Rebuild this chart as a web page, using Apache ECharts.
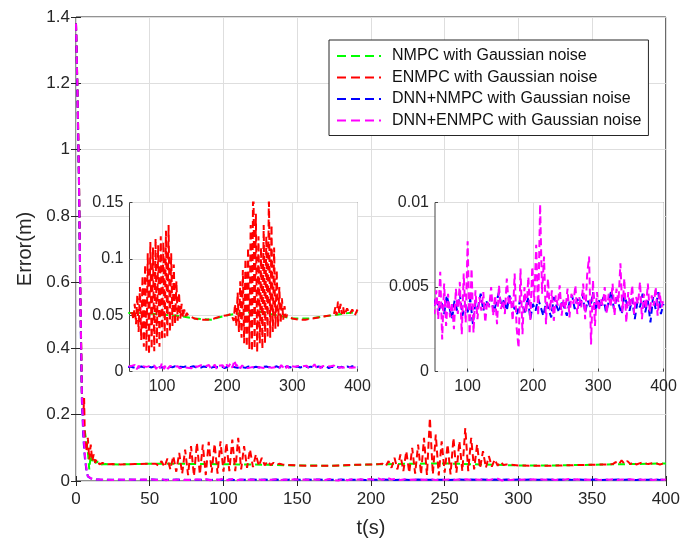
<!DOCTYPE html>
<html>
<head>
<meta charset="utf-8">
<script src="https://cdn.jsdelivr.net/npm/echarts@6/dist/echarts.min.js"></script>
<style>
html,body{margin:0;padding:0;background:#fff;}
#chart{width:683px;height:543px;}
</style>
</head>
<body>
<div id="chart"></div>
<script>
// ---------------- data ----------------
const seriesNames = ['NMPC with Gaussian noise','ENMPC with Gaussian noise','DNN+NMPC with Gaussian noise','DNN+ENMPC with Gaussian noise'];
const mainXTicks = [0,50,100,150,200,250,300,350,400];
const insetXTicks = [100,200,300,400];

// NMPC (green)
const greenT = [0,1,2,3,4,5,6,7,8,9,10,11,12,13,15,17,20,30,50,70,90,110,130,150,175,200,225,250,275,300,325,350,375,400];
const greenV = [1.38,1.18,0.92,0.55,0.27,0.17,0.15,0.145,0.09,0.035,0.08,0.06,0.07,0.055,0.058,0.05,0.051,0.05,0.052,0.052,0.051,0.05,0.049,0.047,0.046,0.05,0.052,0.053,0.05,0.047,0.047,0.049,0.051,0.053];

// ENMPC (red) in segments
const redHeadT = [0,1,2,3,4,5,5.5,6,7,8,9,10,11,12,13,14,16,18,20,25,30,40,50];
const redHeadV = [1.38,1.18,0.92,0.55,0.27,0.2,0.25,0.13,0.09,0.13,0.065,0.11,0.06,0.08,0.055,0.065,0.05,0.055,0.05,0.051,0.05,0.051,0.052];
const redOsc1T = [54,56,58,60,62,64,66,68,70,72,74,76,78,80,82,84,86,88,90,92,94,96,98,100,102,104,106,108,110,112,114,116,118,120,122,124,126,128,130,132,134,136,138,140,142];
const redOsc1V = [0.052,0.046,0.06,0.042,0.068,0.035,0.075,0.028,0.085,0.022,
                  0.095,0.018,0.105,0.015,0.115,0.02,0.11,0.018,0.118,0.025,
                  0.112,0.022,0.12,0.028,0.115,0.03,0.125,0.03,0.13,0.035,
                  0.105,0.04,0.095,0.042,0.08,0.045,0.07,0.047,0.06,0.048,
                  0.055,0.049,0.052,0.05,0.049];
const redMidT = [150,160,170,180,190,200,206];
const redMidV = [0.047,0.046,0.046,0.047,0.049,0.05,0.051];
const redOsc2T = [208,210,212,214,216,218,220,222,224,226,228,230,232,234,236,238,240,242,244,246,248,250,252,254,256,258,260,262,264,266,268,270,272,274,276,278,280,282,284,286,288,290,292];
const redOsc2V = [0.052,0.045,0.06,0.04,0.07,0.035,0.08,0.03,0.09,0.025,
                  0.1,0.022,0.11,0.02,0.13,0.018,0.19,0.02,0.14,0.017,
                  0.12,0.025,0.11,0.02,0.13,0.025,0.12,0.03,0.16,0.03,
                  0.13,0.035,0.11,0.038,0.09,0.04,0.075,0.043,0.065,0.046,
                  0.058,0.048,0.05];
const redTailT = [300,310,320,330,340,350,360,364,366,368,370,372,374,376,378,380,384,388,392,396,400];
const redTailV = [0.047,0.046,0.046,0.047,0.048,0.049,0.05,0.051,0.057,0.05,0.062,0.052,0.06,0.051,0.057,0.05,0.056,0.051,0.055,0.05,0.055];

// DNN+NMPC (blue)
const blueHeadT = [0,1,2,3,4,5,6,7,8,10,12,14];
const blueHeadV = [1.38,1.16,0.9,0.52,0.24,0.13,0.07,0.035,0.014,0.008,0.005,0.0045];
const blueNoiseStart = 16, blueNoiseStep = 4;
const blueNoiseV = [0.0042,0.0039,0.0041,0.0037,0.0040,0.0043,0.0038,0.0041,0.0039,
  0.0044,0.0036,0.0041,0.0034,0.0045,0.0038,0.0031,0.0042,0.0036,0.0046,0.0033,0.0040,
  0.0035,0.0043,0.0028,0.0041,0.0038,0.0046,0.0036,0.0042,0.0039,0.0044,0.0035,0.0041,0.0047,
  0.0038,0.0043,0.0036,0.0045,0.0040,0.0037,0.0034,0.0042,0.0039,0.0035,0.0044,0.0031,0.0040,
  0.0036,0.0043,0.0038,0.0033,0.0041,0.0037,0.0032,0.0044,0.0039,0.0035,0.0042,0.0038,
  0.0033,0.0041,0.0045,0.0037,0.0043,0.0039,0.0046,0.0035,0.0042,0.0038,0.0047,0.0036,0.0043,
  0.0039,0.0044,0.0035,0.0041,0.0048,0.0037,0.0043,0.0039,0.0034,0.0045,0.0040,0.0036,
  0.0043,0.0031,0.0041,0.0038,0.0046,0.0035,0.0042,0.0029,0.0044,0.0037,0.0047,0.0034,0.0040];

// DNN+ENMPC (magenta)
const magHeadT = [0,1,2,3,4,5,6,7,8,10,12,14];
const magHeadV = [1.38,1.18,0.92,0.55,0.26,0.15,0.08,0.04,0.015,0.008,0.006,0.0048];
const magNoiseStart = 16, magNoiseStep = 3;
const magNoiseV = [0.0045,0.0036,0.0041,0.0033,0.0047,0.0038,0.0042,0.0035,0.0044,0.0039,
  0.0043,0.0034,0.0048,0.0031,0.0059,0.0019,0.0052,0.0027,0.0046,0.0032,
  0.0041,0.0025,0.0049,0.0034,0.0053,0.0022,0.0058,0.0029,0.0077,0.0022,
  0.0061,0.0023,0.0048,0.0031,0.0044,0.0036,0.0047,0.0029,0.0042,0.0038,
  0.0050,0.0033,0.0045,0.0028,0.0051,0.0037,0.0042,0.0034,0.0055,0.0039,
  0.0044,0.0030,0.0058,0.0026,0.0014,0.0061,0.0022,0.0050,0.0035,0.0056,
  0.0030,0.0062,0.0041,0.0075,0.0033,0.0099,0.0046,0.0068,0.0028,0.0055,
  0.0036,0.0048,0.0030,0.0045,0.0039,0.0051,0.0033,0.0043,0.0037,0.0049,
  0.0032,0.0046,0.0040,0.0051,0.0034,0.0044,0.0038,0.0052,0.0031,0.0057,
  0.0068,0.0016,0.0054,0.0027,0.0047,0.0036,0.0043,0.0039,0.0050,0.0034,
  0.0046,0.0038,0.0052,0.0033,0.0049,0.0041,0.0064,0.0035,0.0055,0.0029,
  0.0047,0.0038,0.0051,0.0034,0.0044,0.0040,0.0053,0.0031,0.0046,0.0037,
  0.0052,0.0035,0.0045,0.0039,0.0050,0.0033,0.0047,0.0038,0.0043];

// ---------------- build ----------------
function zip(t, v){ return t.map((x,i)=>[x, v[i]]); }
function sampled(start, step, v){ return v.map((y,i)=>[start + i*step, y]); }

const greenData = zip(greenT, greenV);
const redData = [].concat(zip(redHeadT,redHeadV), zip(redOsc1T,redOsc1V), zip(redMidT,redMidV), zip(redOsc2T,redOsc2V), zip(redTailT,redTailV));
const blueData = zip(blueHeadT, blueHeadV).concat(sampled(blueNoiseStart, blueNoiseStep, blueNoiseV));
const magData = zip(magHeadT, magHeadV).concat(sampled(magNoiseStart, magNoiseStep, magNoiseV));

const colors = ['#00ff00','#ff0000','#0000ff','#ff00ff'];
const datas = [greenData, redData, blueData, magData];
const FONT = 'Liberation Sans, Arial, sans-serif';
const TXT = '#262626';
const GRIDC = '#dedede';
// dashed legend glyph: three dashes and a dot, like the reference legend
const DASH_ICON = 'path://M0,0h9v2h-9zM14,0h9v2h-9zM28,0h9v2h-9zM42,0h2v2h-2z';

function mkSeries(gi, z){
  return datas.map((d,i)=>({
    type:'line', name:seriesNames[i], xAxisIndex:gi, yAxisIndex:gi, data:d,
    symbol:'none', showSymbol:false, animation:false, clip:true, z:z,
    lineStyle:{color:colors[i], width:2, type:[7,4]}, itemStyle:{color:colors[i]}
  }));
}

function axisBase(extra){
  return Object.assign({
    type:'value', axisLine:{show:false},
    axisTick:{show:true, inside:true, length:5, lineStyle:{color:TXT}},
    axisLabel:{color:TXT, fontFamily:FONT, fontSize:17},
    splitLine:{show:true, lineStyle:{color:GRIDC, width:1}}
  }, extra);
}

const option = {
  animation:false,
  backgroundColor:'#fff',
  grid:[
    {left:76, top:17, width:591, height:464, show:true, borderColor:TXT, borderWidth:1, backgroundColor:'transparent', z:0},
    {left:129.5, top:202.5, width:228, height:169, show:true, borderColor:'#444', borderWidth:1, backgroundColor:'#fff', z:5},
    {left:435, top:202.5, width:228.5, height:169, show:true, borderColor:'#444', borderWidth:1, backgroundColor:'#fff', z:5}
  ],
  xAxis:[
    axisBase({gridIndex:0, min:0, max:400, interval:50, position:'bottom', z:1,
      axisLabel:{color:TXT, fontFamily:FONT, fontSize:17, margin:10},
      name:'t(s)', nameLocation:'middle', nameGap:37, nameTextStyle:{color:TXT, fontFamily:FONT, fontSize:20}}),
    axisBase({gridIndex:1, min:50, max:400, z:6,
      axisTick:{show:true, inside:true, length:3, lineStyle:{color:'#444'}, customValues:insetXTicks},
      axisLabel:{color:TXT, fontFamily:FONT, fontSize:16, margin:7, customValues:insetXTicks}}),
    axisBase({gridIndex:2, min:50, max:400, z:6,
      axisTick:{show:true, inside:true, length:3, lineStyle:{color:'#444'}, customValues:insetXTicks},
      axisLabel:{color:TXT, fontFamily:FONT, fontSize:16, margin:7, customValues:insetXTicks}}),
    axisBase({gridIndex:0, min:0, max:400, interval:50, position:'top', z:1,
      axisLabel:{show:false}, splitLine:{show:false}})
  ],
  yAxis:[
    axisBase({gridIndex:0, min:0, max:1.4, interval:0.2, position:'left', z:1,
      axisLabel:{color:TXT, fontFamily:FONT, fontSize:17, margin:6},
      name:'Error(m)', nameLocation:'middle', nameGap:40, nameTextStyle:{color:TXT, fontFamily:FONT, fontSize:20}}),
    axisBase({gridIndex:1, min:0, max:0.15, interval:0.05, z:6,
      axisTick:{show:true, inside:true, length:3, lineStyle:{color:'#444'}},
      axisLabel:{color:TXT, fontFamily:FONT, fontSize:16, margin:6}}),
    axisBase({gridIndex:2, min:0, max:0.01, interval:0.005, z:6,
      axisTick:{show:true, inside:true, length:3, lineStyle:{color:'#444'}},
      axisLabel:{color:TXT, fontFamily:FONT, fontSize:16, margin:6}}),
    axisBase({gridIndex:0, min:0, max:1.4, interval:0.2, position:'right', z:1,
      axisLabel:{show:false}, splitLine:{show:false}})
  ],
  legend:{
    orient:'vertical', left:329, top:40,
    data:seriesNames.map((n,i)=>({name:n, icon:DASH_ICON, itemStyle:{color:colors[i]}})),
    itemWidth:44, itemHeight:14, itemGap:5.5, padding:[8,7,7,8],
    backgroundColor:'#fff', borderColor:TXT, borderWidth:1, borderRadius:0,
    textStyle:{fontSize:16, color:'#111', fontFamily:FONT, padding:[0,0,0,6]},
    selectedMode:false, z:10
  },
  series:[].concat(mkSeries(0, 2), mkSeries(1, 7), mkSeries(2, 7))
};

const chart = echarts.init(document.getElementById('chart'), null, {renderer:'canvas'});
chart.setOption(option);
</script>
</body>
</html>
